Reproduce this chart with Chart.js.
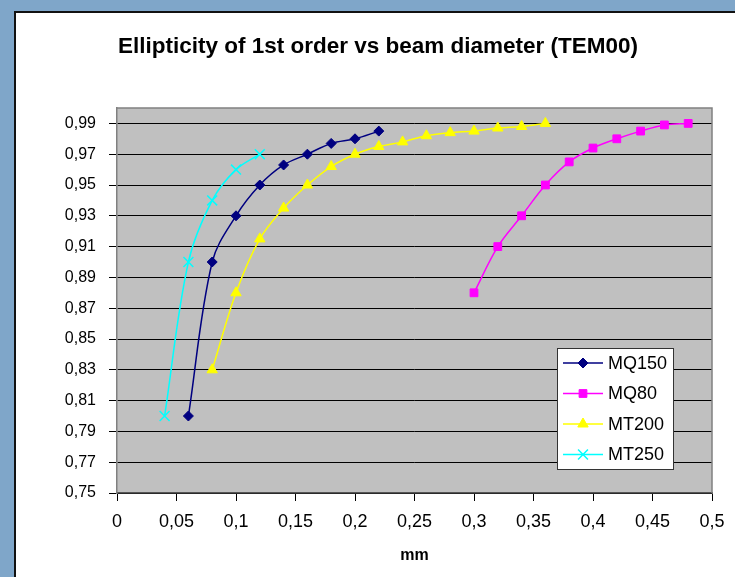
<!DOCTYPE html>
<html lang="en">
<head>
  <meta charset="UTF-8">
  <title>Ellipticity of 1st order vs beam diameter (TEM00)</title>
  <script src="https://cdn.jsdelivr.net/npm/chart.js"></script>
  <style>
    html, body {
      margin: 0;
      padding: 0;
      width: 735px;
      height: 577px;
      overflow: hidden;
      background: #7fa6c9;
      font-family: "Liberation Sans", Arial, sans-serif;
    }
    #panel {
      position: absolute;
      left: 14px;
      top: 11px;
      right: 0;
      bottom: 0;
      background: #fff;
      border-left: 2px solid #111;
      border-top: 2px solid #111;
    }
    #chart {
      position: absolute;
      left: 0;
      top: 0;
    }
  </style>
</head>
<body>
  <div id="panel"></div>
  <canvas id="chart" width="735" height="577"></canvas>

  <script>
    // data (x in mm, y = ellipticity)
    const mq150X = [0.06, 0.08, 0.10, 0.12, 0.14, 0.16, 0.18, 0.20, 0.22];
    const mq150Y = [0.80, 0.90, 0.93, 0.95, 0.963, 0.97, 0.977, 0.98, 0.985];

    const mq80X = [0.30, 0.32, 0.34, 0.36, 0.38, 0.40, 0.42, 0.44, 0.46, 0.48];
    const mq80Y = [0.88, 0.91, 0.93, 0.95, 0.965, 0.974, 0.98, 0.985, 0.989, 0.99];

    const mt200X = [0.08, 0.10, 0.12, 0.14, 0.16, 0.18, 0.20, 0.22, 0.24, 0.26, 0.28, 0.30, 0.32, 0.34, 0.36];
    const mt200Y = [0.83, 0.88, 0.915, 0.935, 0.95, 0.962, 0.97, 0.975, 0.978, 0.982, 0.984, 0.985, 0.987, 0.988, 0.99];

    const mt250X = [0.04, 0.06, 0.08, 0.10, 0.12];
    const mt250Y = [0.80, 0.90, 0.94, 0.96, 0.97];

    const xTicks = [0, 0.05, 0.1, 0.15, 0.2, 0.25, 0.3, 0.35, 0.4, 0.45, 0.5];
    const yTicks = [0.75, 0.77, 0.79, 0.81, 0.83, 0.85, 0.87, 0.89, 0.91, 0.93, 0.95, 0.97, 0.99];

    const FONT = '"Liberation Sans", Arial, sans-serif';

    function pts(xs, ys) {
      return xs.map((x, i) => ({ x: x, y: ys[i] }));
    }

    function serie(label, xs, ys, color, style, radius) {
      return {
        label: label,
        data: pts(xs, ys),
        borderColor: color,
        backgroundColor: color,
        borderWidth: 1.5,
        pointStyle: style,
        pointRadius: radius,
        pointHoverRadius: radius,
        pointBorderWidth: style === 'crossRot' ? 1.5 : 1,
        pointBorderColor: color,
        pointBackgroundColor: color,
        tension: 0.35,
        fill: false
      };
    }

    const datasets = [
      serie('MQ150', mq150X, mq150Y, '#000080', 'rectRot', 5),
      serie('MQ80', mq80X, mq80Y, '#ff00ff', 'rect', 5.5),
      serie('MT200', mt200X, mt200Y, '#ffff00', 'triangle', 6),
      serie('MT250', mt250X, mt250Y, '#00ffff', 'crossRot', 7)
    ];
    // excel draws later series on top
    datasets.forEach((d, i) => { d.order = datasets.length - i; });

    const plotBg = {
      id: 'plotBg',
      beforeDraw(chart) {
        const a = chart.chartArea, ctx = chart.ctx;
        ctx.save();
        ctx.fillStyle = '#c0c0c0';
        ctx.fillRect(a.left, a.top, a.right - a.left, a.bottom - a.top);
        ctx.restore();
      },
      afterDraw(chart) {
        const a = chart.chartArea, ctx = chart.ctx;
        ctx.save();
        ctx.strokeStyle = '#808080';
        ctx.lineWidth = 1.5;
        ctx.beginPath();
        ctx.moveTo(a.left, a.top);
        ctx.lineTo(a.right, a.top);
        ctx.lineTo(a.right, a.bottom);
        ctx.stroke();

        // legend box inside plot
        const w = 116, h = 121;
        const x0 = a.right - 39 - w;
        const y0 = a.bottom - 24 - h;
        ctx.fillStyle = '#fff';
        ctx.fillRect(x0, y0, w, h);
        ctx.strokeStyle = '#333';
        ctx.lineWidth = 1;
        ctx.strokeRect(x0 + 0.5, y0 + 0.5, w, h);

        chart.data.datasets.forEach((d, i) => {
          const y = y0 + 15 + i * 30.5;
          ctx.strokeStyle = d.borderColor;
          ctx.lineWidth = 1.5;
          ctx.beginPath();
          ctx.moveTo(x0 + 6, y);
          ctx.lineTo(x0 + 46, y);
          ctx.stroke();
          ctx.fillStyle = d.pointBackgroundColor;
          ctx.strokeStyle = d.pointBorderColor;
          ctx.lineWidth = d.pointBorderWidth;
          Chart.helpers.drawPoint(ctx, {
            pointStyle: d.pointStyle,
            radius: d.pointRadius,
            rotation: 0,
            borderWidth: d.pointBorderWidth
          }, x0 + 26, y);
          ctx.fillStyle = '#000';
          ctx.font = '18px ' + FONT;
          ctx.textBaseline = 'middle';
          ctx.textAlign = 'left';
          ctx.fillText(d.label, x0 + 51, y + 1);
        });
        ctx.restore();
      }
    };

    const fmt = (v, n) => v.toFixed(n).replace('.', ',');

    new Chart(document.getElementById('chart'), {
      type: 'line',
      data: { datasets: datasets },
      plugins: [plotBg],
      options: {
        responsive: false,
        animation: false,
        events: [],
        layout: { padding: { left: 44, right: 23, top: 0, bottom: 0 } },
        plugins: {
          legend: { display: false },
          tooltip: { enabled: false },
          title: {
            display: true,
            text: 'Ellipticity of 1st order vs beam diameter (TEM00)',
            color: '#000',
            font: { family: FONT, size: 22.5, weight: 'bold' },
            padding: { top: 33, bottom: 48 }
          }
        },
        scales: {
          x: {
            type: 'linear',
            min: 0,
            max: 0.5,
            afterBuildTicks: s => { s.ticks = xTicks.map(v => ({ value: v })); },
            afterFit: s => { s.height = 84; },
            grid: { drawOnChartArea: false, drawTicks: true, tickLength: 8, color: '#000' },
            border: { color: '#555', width: 1.5 },
            ticks: {
              color: '#000',
              padding: 10,
              maxRotation: 0,
              font: { family: FONT, size: 18 },
              callback: v => String(Number(v.toFixed(2))).replace('.', ',')
            },
            title: {
              display: true,
              text: 'mm',
              color: '#000',
              font: { family: FONT, size: 16, weight: 'bold' },
              padding: { top: 10, bottom: 12 }
            }
          },
          y: {
            type: 'linear',
            min: 0.75,
            max: 1.0,
            afterBuildTicks: s => { s.ticks = yTicks.map(v => ({ value: v })); },
            afterFit: s => { s.width = 73; },
            grid: { color: '#000', lineWidth: 1, drawTicks: true, tickLength: 8 },
            border: { color: '#808080', width: 1.5 },
            ticks: {
              color: '#000',
              padding: 13,
              font: { family: FONT, size: 16 },
              callback: v => fmt(v, 2)
            }
          }
        }
      }
    });
  </script>
</body>
</html>
